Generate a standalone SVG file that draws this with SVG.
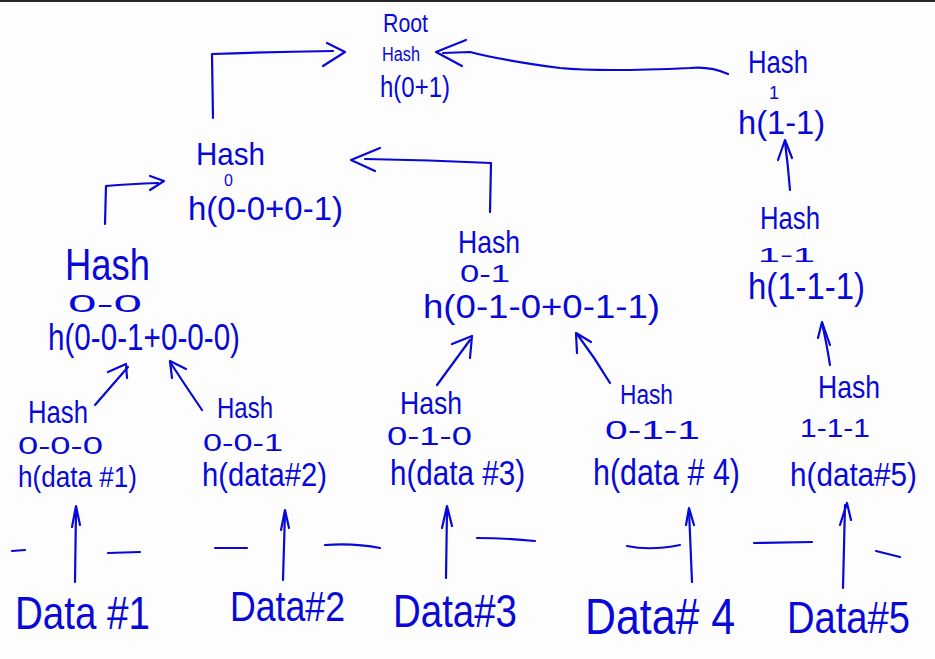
<svg xmlns="http://www.w3.org/2000/svg" width="935" height="659" viewBox="0 0 935 659">
<style>
text{font-family:"Liberation Sans","DejaVu Sans",sans-serif;fill:#0808d8;text-anchor:start}
.c path{fill:none;stroke:#0808d8;stroke-width:2.2;stroke-linecap:round;stroke-linejoin:round}
</style>
<rect width="935" height="659" fill="#fdfdfd"/>
<rect width="935" height="2" fill="#262626"/>

<g class="c" id="connectors">
<!-- Hash0 -> Root -->
<path d="M213,118 L212,54 Q270,52 333,51"/>
<path d="M327,43 L345,52 L323,66"/>
<!-- Hash1 -> Root -->
<path d="M728,74 Q710,66 690,68 Q600,72 560,68 Q500,60 470,52 L443,53"/>
<path d="M466,40 L436,52 L462,66"/>
<!-- Hash0-1 -> Hash0 -->
<path d="M490,212 L491,163 Q430,160 365,159"/>
<path d="M380,148 L351,160 L375,171"/>
<!-- Hash0-0 -> Hash0 -->
<path d="M105,224 L106,186 Q130,184 158,183"/>
<path d="M150,176 L164,181 L150,190"/>
<!-- Hash1-1 -> Hash1 -->
<path d="M790,190 Q788,165 785,142"/>
<path d="M778,160 L785,140 L792,158"/>
<!-- Hash1-1-1 -> Hash1-1 -->
<path d="M830,365 Q826,340 822,323"/>
<path d="M818,338 L822,322 L830,345"/>
<!-- Hash0-0-0 -> Hash0-0 -->
<path d="M95,405 L128,367"/>
<path d="M108,372 L126,364 L127,378"/>
<!-- Hash0-0-1 -> Hash0-0 -->
<path d="M202,410 Q185,385 170,362"/>
<path d="M186,369 L170,361 L172,378"/>
<!-- Hash0-1-0 -> Hash0-1 -->
<path d="M437,385 L470,340"/>
<path d="M452,344 L472,336 L470,358"/>
<!-- Hash0-1-1 -> Hash0-1 -->
<path d="M610,383 Q595,358 577,334"/>
<path d="M577,353 L576,333 L591,342"/>
<!-- Data arrows -->
<path d="M75,582 L76,510"/>
<path d="M72,527 L76,506 L80,525"/>
<path d="M283,580 L285,512"/>
<path d="M281,530 L285,510 L289,528"/>
<path d="M446,578 L447,510"/>
<path d="M442,528 L447,506 L452,526"/>
<path d="M692,582 L689,510"/>
<path d="M686,525 L689,508 L694,525"/>
<path d="M843,588 L845,505"/>
<path d="M840,525 L847,503 L851,520"/>
<!-- dashes -->
<path d="M12,551 L25,550"/>
<path d="M108,553 L140,552"/>
<path d="M215,548 L247,548"/>
<path d="M325,545 Q355,543 380,548"/>
<path d="M477,538 Q505,538 535,541"/>
<path d="M627,546 Q650,551 680,545"/>
<path d="M754,543 L812,542"/>
<path d="M876,551 L900,557"/>
</g>

<g id="root">
<text x="383" y="32" font-size="26" textLength="45" lengthAdjust="spacingAndGlyphs">Root</text>
<text x="382" y="61" font-size="20" textLength="38" lengthAdjust="spacingAndGlyphs">Hash</text>
<text x="380" y="97" font-size="29" textLength="70" lengthAdjust="spacingAndGlyphs">h(0+1)</text>
</g>
<g id="hash-0">
<text x="196" y="165" font-size="32" textLength="69" lengthAdjust="spacingAndGlyphs">Hash</text>
<text x="224" y="186" font-size="16">0</text>
<text x="188" y="220" font-size="33" textLength="155" lengthAdjust="spacingAndGlyphs">h(0-0+0-1)</text>
</g>
<g id="hash-1">
<text x="748" y="73" font-size="31" textLength="60" lengthAdjust="spacingAndGlyphs">Hash</text>
<text x="769" y="99" font-size="18">1</text>
<text x="738" y="134" font-size="34" textLength="87" lengthAdjust="spacingAndGlyphs">h(1-1)</text>
</g>
<g id="hash-0-0">
<text x="65" y="280" font-size="44" textLength="85" lengthAdjust="spacingAndGlyphs">Hash</text>
<text x="68" y="312" font-size="24" textLength="74" lengthAdjust="spacingAndGlyphs">0-0</text>
<text x="48" y="350" font-size="36" textLength="192" lengthAdjust="spacingAndGlyphs">h(0-0-1+0-0-0)</text>
</g>
<g id="hash-0-1">
<text x="458" y="253" font-size="32" textLength="62" lengthAdjust="spacingAndGlyphs">Hash</text>
<text x="460" y="282" font-size="24" textLength="50" lengthAdjust="spacingAndGlyphs">0-1</text>
<text x="423" y="318" font-size="34" textLength="237" lengthAdjust="spacingAndGlyphs">h(0-1-0+0-1-1)</text>
</g>
<g id="hash-1-1">
<text x="760" y="229" font-size="31" textLength="60" lengthAdjust="spacingAndGlyphs">Hash</text>
<text x="758" y="262" font-size="20" textLength="57" lengthAdjust="spacingAndGlyphs">1-1</text>
<text x="748" y="299" font-size="36" textLength="117" lengthAdjust="spacingAndGlyphs">h(1-1-1)</text>
</g>
<g id="hash-0-0-0">
<text x="28" y="423" font-size="31" textLength="60" lengthAdjust="spacingAndGlyphs">Hash</text>
<text x="18" y="454" font-size="24" textLength="85" lengthAdjust="spacingAndGlyphs">0-0-0</text>
<text x="18" y="487" font-size="30" textLength="119" lengthAdjust="spacingAndGlyphs">h(data #1)</text>
</g>
<g id="hash-0-0-1">
<text x="217" y="418" font-size="29" textLength="56" lengthAdjust="spacingAndGlyphs">Hash</text>
<text x="203" y="451" font-size="24" textLength="80" lengthAdjust="spacingAndGlyphs">0-0-1</text>
<text x="202" y="486" font-size="33" textLength="125" lengthAdjust="spacingAndGlyphs">h(data#2)</text>
</g>
<g id="hash-0-1-0">
<text x="400" y="414" font-size="32" textLength="62" lengthAdjust="spacingAndGlyphs">Hash</text>
<text x="387" y="445" font-size="26" textLength="85" lengthAdjust="spacingAndGlyphs">0-1-0</text>
<text x="390" y="485" font-size="35" textLength="135" lengthAdjust="spacingAndGlyphs">h(data #3)</text>
</g>
<g id="hash-0-1-1">
<text x="620" y="404" font-size="27" textLength="53" lengthAdjust="spacingAndGlyphs">Hash</text>
<text x="605" y="439" font-size="26" textLength="95" lengthAdjust="spacingAndGlyphs">0-1-1</text>
<text x="593" y="485" font-size="36" textLength="147" lengthAdjust="spacingAndGlyphs">h(data # 4)</text>
</g>
<g id="hash-1-1-1">
<text x="818" y="398" font-size="32" textLength="62" lengthAdjust="spacingAndGlyphs">Hash</text>
<text x="800" y="437" font-size="26" textLength="70" lengthAdjust="spacingAndGlyphs">1-1-1</text>
<text x="790" y="486" font-size="33" textLength="127" lengthAdjust="spacingAndGlyphs">h(data#5)</text>
</g>
<g id="data-1"><text x="15" y="629" font-size="46" textLength="135" lengthAdjust="spacingAndGlyphs">Data #1</text></g>
<g id="data-2"><text x="230" y="621" font-size="43" textLength="115" lengthAdjust="spacingAndGlyphs">Data#2</text></g>
<g id="data-3"><text x="393" y="627" font-size="46" textLength="124" lengthAdjust="spacingAndGlyphs">Data#3</text></g>
<g id="data-4"><text x="585" y="634" font-size="50" textLength="150" lengthAdjust="spacingAndGlyphs">Data# 4</text></g>
<g id="data-5"><text x="787" y="633" font-size="45" textLength="123" lengthAdjust="spacingAndGlyphs">Data#5</text></g>
</svg>
